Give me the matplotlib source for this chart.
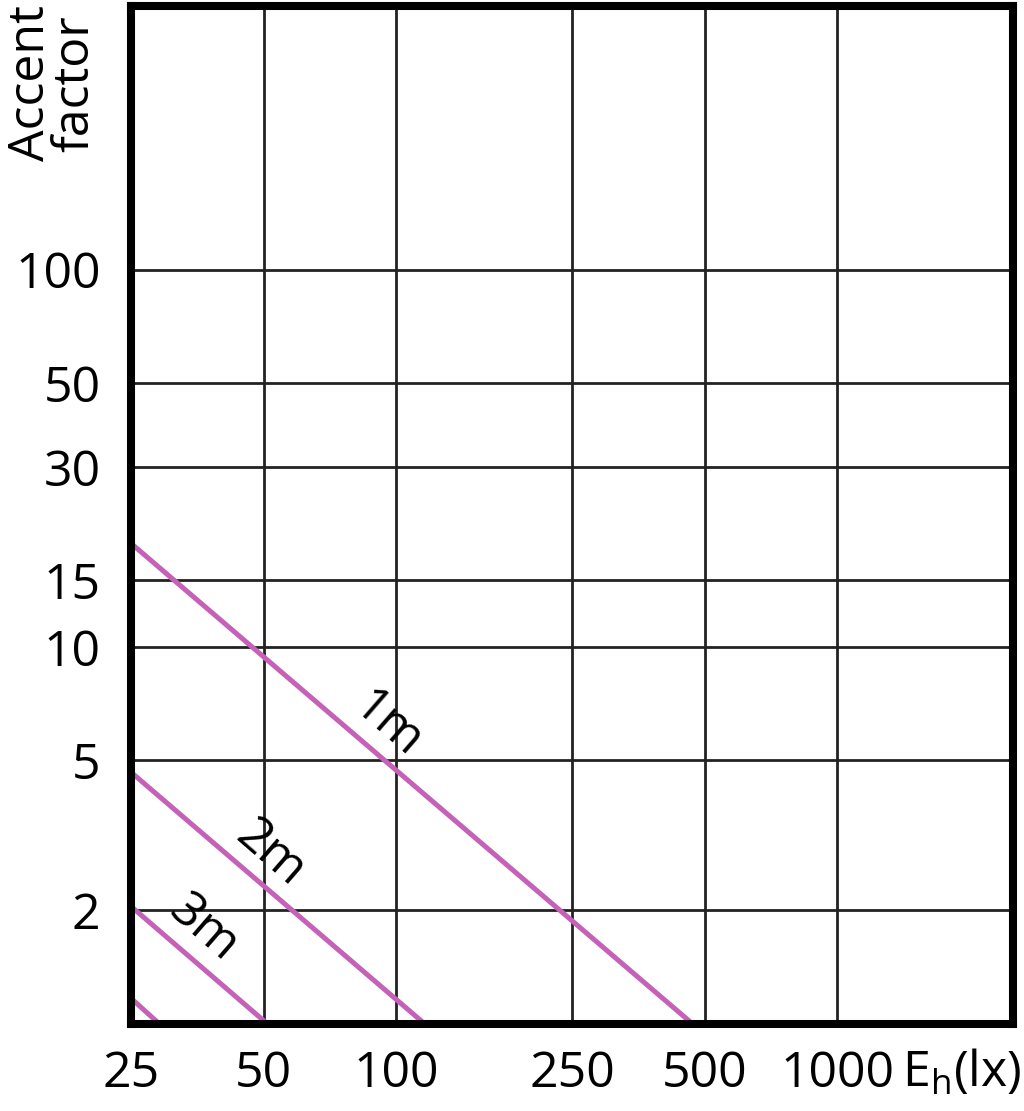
import matplotlib
matplotlib.use('Agg')
import matplotlib.pyplot as plt
from matplotlib.ticker import FixedLocator, NullLocator, FixedFormatter

plt.rcParams['font.family'] = ['Open Sans', 'DejaVu Sans']

# axis ticks
x_ticks = [25, 50, 100, 250, 500, 1000]
y_ticks = [2, 5, 10, 15, 30, 50, 100]

# distance lines (E_h, accent factor)
dist_labels = ['1m', '2m', '3m', '']
line_x = [[25, 470], [25, 116], [25, 51], [25, 29]]
line_y = [[18.8, 1.0], [4.65, 1.0], [2.05, 1.0], [1.17, 1.0]]
label_pos = [(95, 6.2), (51.6, 2.83), (36.5, 1.79)]

fig = plt.figure(figsize=(10.24, 11.11), dpi=100)
ax = fig.add_axes([0.128, 0.0783, 0.861, 0.9163])
ax.set_xscale('log')
ax.set_yscale('log')
ax.set_xlim(25, 2500)
ax.set_ylim(1.0, 500)

for xs, ys in zip(line_x, line_y):
    ax.plot(xs, ys, color='#c462b8', lw=3.6, solid_capstyle='butt', zorder=3)

for lab, (lx, ly) in zip(dist_labels, label_pos):
    ax.text(lx, ly, lab, fontsize=36, rotation=-41, ha='center', va='center',
            rotation_mode='anchor', zorder=4)

ax.xaxis.set_major_locator(FixedLocator(x_ticks))
ax.xaxis.set_major_formatter(FixedFormatter([str(v) for v in x_ticks]))
ax.xaxis.set_minor_locator(NullLocator())
ax.yaxis.set_major_locator(FixedLocator(y_ticks))
ax.yaxis.set_major_formatter(FixedFormatter([str(v) for v in y_ticks]))
ax.yaxis.set_minor_locator(NullLocator())
ax.tick_params(axis='x', length=0, labelsize=36, pad=18)
ax.tick_params(axis='y', length=0, labelsize=36, pad=22)
ax.grid(True, color='#222222', lw=2.0, zorder=1)
ax.set_axisbelow(True)

for s in ax.spines.values():
    s.set_linewidth(5.8)
    s.set_color('black')
    s.set_zorder(5)

fig.text(0.052, 0.925, 'Accent\nfactor', rotation=90, fontsize=36,
         ha='center', va='center', linespacing=0.85)
fig.text(0.997, 0.022, r'E$_\mathregular{h}$(lx)', fontsize=36, ha='right', va='baseline')

fig.savefig('out.png', dpi=100)
